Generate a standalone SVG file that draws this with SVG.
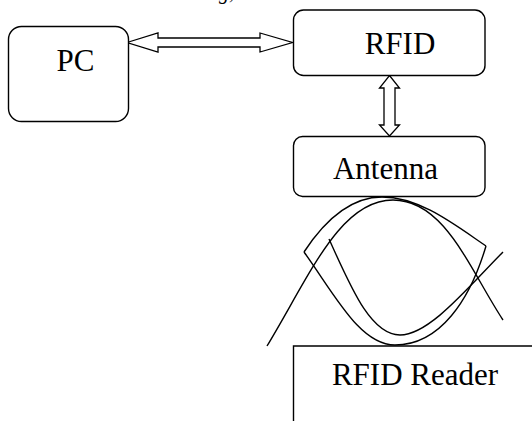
<svg xmlns="http://www.w3.org/2000/svg" width="532" height="421" viewBox="0 0 532 421">
<style>
.box{fill:#fff;stroke:#000;stroke-width:1.4}
.lbl{font-family:"Liberation Serif","Times New Roman",serif;font-size:31px;fill:#000;text-anchor:middle}
.arr{fill:#fff;stroke:#000;stroke-width:1.3;stroke-linejoin:miter}
.wave{fill:none;stroke:#000;stroke-width:1.4}
</style>
<rect width="532" height="421" fill="#fff"/>
<text x="219" y="-1" style="font-family:'Liberation Serif',serif;font-size:20px;font-style:italic">g,</text>
<g id="connectors">
<path class="arr" d="M127,42.5 L158,33 L158,38 L260,38 L260,33 L292.5,42.5 L260,52 L260,47 L158,47 L158,52 Z"/>
<path class="arr" d="M389.5,75.5 L399.5,88 L395,88 L395,125 L399.5,125 L389.5,136 L379.5,125 L384,125 L384,88 L379.5,88 Z"/>
</g>
<g id="pc">
<rect class="box" x="8.5" y="26.5" width="120" height="95" rx="13"/>
<text class="lbl" x="75.5" y="71">PC</text>
</g>
<g id="rfid">
<rect class="box" x="293.5" y="10" width="191.5" height="65.5" rx="10"/>
<text class="lbl" x="400" y="53.5">RFID</text>
</g>
<g id="antenna">
<rect class="box" x="293.5" y="136.5" width="191.5" height="60" rx="9"/>
<text class="lbl" x="385.5" y="178.5">Antenna</text>
</g>
<g id="waves">
<path class="wave" d="M304,252 C325,220 350,197 382,197 C420,197 455,225 486,246"/>
<path class="wave" d="M304,252 C335,295 360,345 395,345 C440,345 470,300 486,246"/>
<path class="wave" d="M267,346 C310,275 340,200 393,200 C445,200 470,270 503,320"/>
<path class="wave" d="M329,239 C350,285 370,335 400,335 C430,335 470,285 503,252"/>
</g>
<g id="reader">
<path class="box" d="M293.5,421 L293.5,346 L532,346" fill="none"/>
<text class="lbl" x="415" y="385">RFID Reader</text>
</g>
</svg>
